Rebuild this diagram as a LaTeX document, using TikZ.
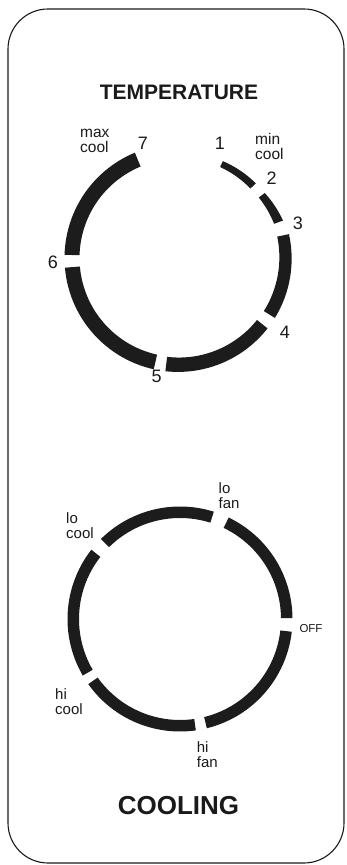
\documentclass[tikz,border=0pt]{standalone}
\usepackage{fontspec}
\setmainfont{Liberation Sans}
\definecolor{ringc}{HTML}{1C1C1C}
\definecolor{inkc}{HTML}{1A1A1A}
% #1 cx, #2 cy, #3 start angle, #4 end angle, #5 inner r start, #6 inner r end, #7 outer r start, #8 outer r end
\newcommand\ringpiece[8]{%
  \fill[ringc] plot[domain=0:1,samples=30,variable=\t]
    ({#1+(#5+(#6-#5)*\t)*cos(#3+(#4-#3)*\t)},{#2+(#5+(#6-#5)*\t)*sin(#3+(#4-#3)*\t)})
    -- plot[domain=1:0,samples=30,variable=\t]
    ({#1+(#7+(#8-#7)*\t)*cos(#3+(#4-#3)*\t)},{#2+(#7+(#8-#7)*\t)*sin(#3+(#4-#3)*\t)})
    -- cycle;}
\begin{document}
\begin{tikzpicture}[x=1pt,y=1pt,
  num/.style={inner sep=0pt,text=inkc,font=\fontsize{18}{18}\selectfont},
  lab/.style={inner sep=0pt,text=inkc,align=left,anchor=west,font=\fontsize{15.5}{15}\selectfont},
  clab/.style={inner sep=0pt,text=inkc,align=left,anchor=west,font=\fontsize{15}{15}\selectfont},
  title/.style={inner sep=0pt,text=inkc,font=\bfseries\fontsize{21}{21}\selectfont}]
\useasboundingbox (0,0) rectangle (346,865);
\draw[inkc,line width=1.1pt,rounded corners=40pt] (8,2) rectangle (344,856);

% titles
\node[title] (ttemp) at (179,772.5) {TEMPERATURE};
\node[title,font=\bfseries\fontsize{26}{26}\selectfont] (tcool) at (178.5,59.2) {COOLING};

% temperature dial
\ringpiece{178.5}{607}{65.4}{44}{100}{100}{106.5}{107.5}
\ringpiece{178.5}{607}{37}{19.7}{100.5}{101.5}{108}{111}
\ringpiece{178.5}{607}{12.2}{-31.9}{101}{100.5}{113}{113.5}
\ringpiece{178.5}{607}{-38.3}{-96.6}{100}{99.5}{113.5}{114}
\ringpiece{178.5}{607}{-102.5}{-175.1}{99}{99}{114}{114}
\ringpiece{178.5}{607}{178.4}{112.5}{99}{99}{114}{114}

\node[num] (n1) at (220,722) {1};
\node[num] (n2) at (271.7,687) {2};
\node[num] (n3) at (298,642) {3};
\node[num] (n4) at (285,533) {4};
\node[num] (n5) at (156.7,488.3) {5};
\node[num] (n6) at (53,603) {6};
\node[num] (n7) at (143,722) {7};
\node[lab] (lmax) at (80,724.5) {max\\cool};
\node[lab] (lmin) at (255,718.3) {min\\cool};

% cooling dial
\ringpiece{180}{246}{64.4}{0.4}{101}{101}{112.5}{112.5}
\ringpiece{180}{246}{-6.5}{-76.2}{101}{101}{112.5}{112.5}
\ringpiece{180}{246}{-81.9}{-144.6}{101}{101}{112.5}{112.5}
\ringpiece{180}{246}{-149.8}{-218}{101}{101}{112.5}{112.5}
\ringpiece{180}{246}{134.7}{72.5}{101}{101}{112.5}{112.5}

\node[clab] (llofan) at (218.5,369) {lo\\fan};
\node[clab] (llocool) at (66,339.2) {lo\\cool};
\node[clab,font=\fontsize{11.5}{12}\selectfont] (loff) at (299.3,236) {OFF};
\node[clab] (lhicool) at (55,163.7) {hi\\cool};
\node[clab] (lhifan) at (196.7,110.5) {hi\\fan};
\end{tikzpicture}
\end{document}
